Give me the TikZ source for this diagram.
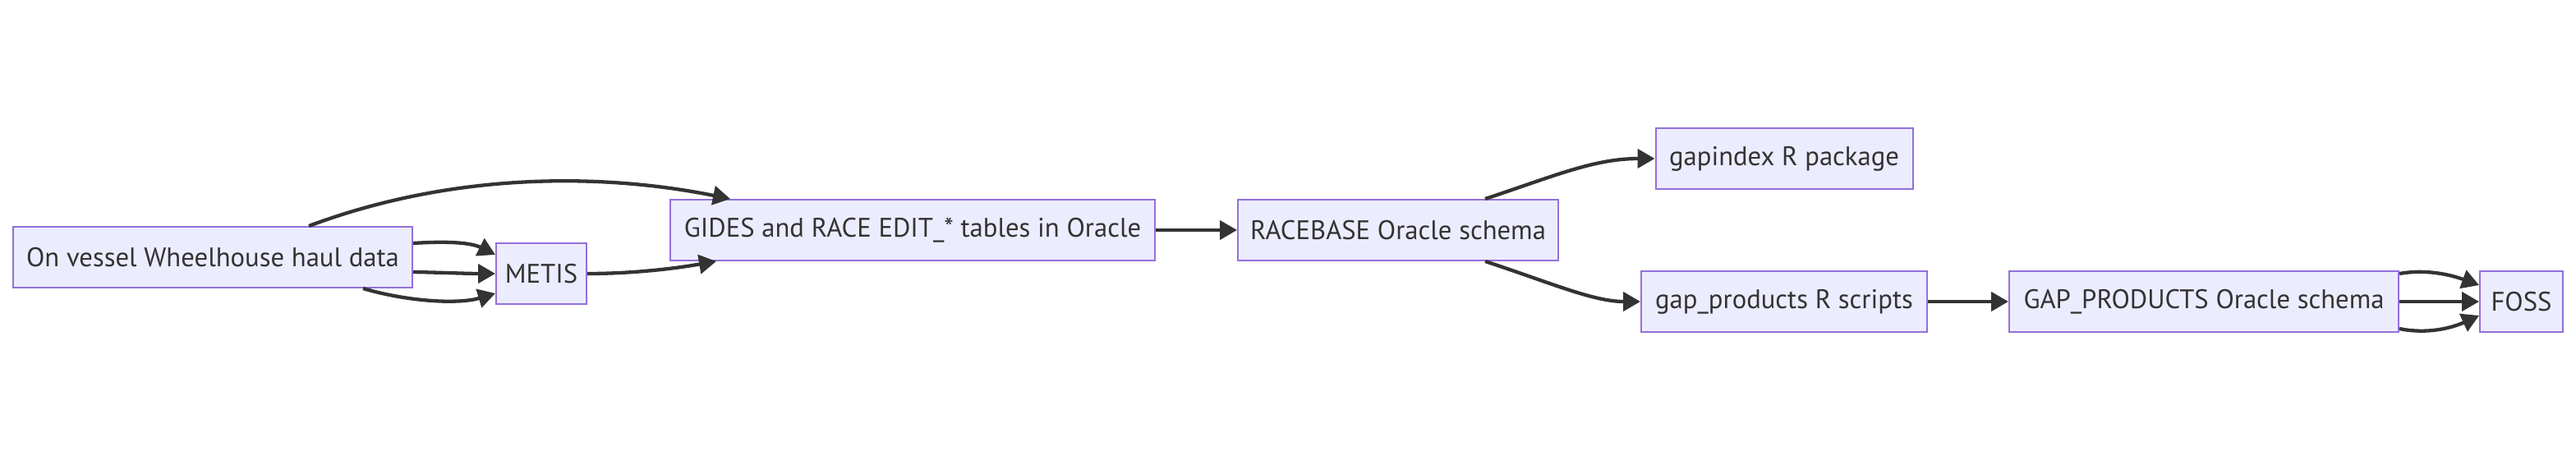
\documentclass[tikz,border=0pt]{standalone}
\usepackage{fontspec}
\setmainfont{PT Sans}
\usepackage{tikz}
\usetikzlibrary{arrows.meta}
\definecolor{flfill}{HTML}{ECECFF}
\definecolor{flborder}{HTML}{9370DB}
\definecolor{flline}{HTML}{333333}

\begin{document}
\begin{tikzpicture}[
    caja/.style={draw=flborder,fill=flfill,line width=0.02cm,minimum height=0.74cm,inner sep=0pt,text=flline,font=\fontsize{9.3}{11}\selectfont},
    flecha/.style={draw=flline,line width=0.043cm,-{Triangle[length=0.21cm,width=0.23cm]}}]
    \useasboundingbox (0,0) rectangle (31.36,5.6);
    % nodos
    \node[caja,minimum width=4.86cm] (wh) at (2.59,2.47) {On vessel Wheelhouse haul data};
    \node[caja,minimum width=1.10cm] (metis) at (6.59,2.27) {METIS};
    \node[caja,minimum width=5.90cm] (gides) at (11.11,2.80) {GIDES and RACE EDIT\_* tables in Oracle};
    \node[caja,minimum width=3.90cm] (racebase) at (17.02,2.80) {RACEBASE Oracle schema};
    \node[caja,minimum width=3.13cm] (gapindex) at (21.72,3.67) {gapindex R package};
    \node[caja,minimum width=3.48cm] (gapscripts) at (21.72,1.93) {gap\_products R scripts};
    \node[caja,minimum width=4.74cm] (gapschema) at (26.83,1.93) {GAP\_PRODUCTS Oracle schema};
    \node[caja,minimum width=1.01cm] (foss) at (30.695,1.93) {FOSS};
    % conexiones
    \draw[flecha] ([xshift=1.17cm]wh.north) .. controls (5.5,3.50) and (7.3,3.50) .. ([xshift=0.74cm]gides.north west);
    \draw[flecha] ([yshift=0.17cm]wh.east) .. controls (5.5,2.67) and (5.75,2.64) .. ([yshift=0.23cm]metis.west);
    \draw[flecha] ([yshift=-0.18cm]wh.east) .. controls (5.5,2.28) and (5.7,2.27) .. (metis.west);
    \draw[flecha] ([xshift=1.83cm]wh.south) .. controls (5.0,1.92) and (5.6,1.90) .. ([yshift=-0.24cm]metis.west);
    \draw[flecha] (metis.east) .. controls (7.7,2.27) and (8.2,2.33) .. ([xshift=0.57cm]gides.south west);
    \draw[flecha] (gides.east) -- (racebase.west);
    \draw[flecha] ([xshift=1.06cm]racebase.north) .. controls (18.9,3.45) and (19.4,3.67) .. (gapindex.west);
    \draw[flecha] ([xshift=1.06cm]racebase.south) .. controls (18.9,2.15) and (19.4,1.93) .. (gapscripts.west);
    \draw[flecha] (gapscripts.east) -- (gapschema.west);
    \draw[flecha] ([yshift=0.34cm]gapschema.east) .. controls (29.55,2.33) and (29.85,2.25) .. ([yshift=0.20cm]foss.west);
    \draw[flecha] (gapschema.east) -- (foss.west);
    \draw[flecha] ([yshift=-0.33cm]gapschema.east) .. controls (29.55,1.53) and (29.85,1.61) .. ([yshift=-0.17cm]foss.west);
\end{tikzpicture}
\end{document}
